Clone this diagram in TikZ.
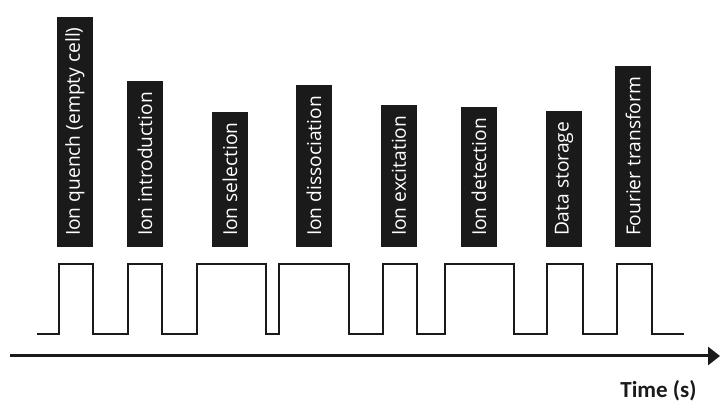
\documentclass[tikz,border=0pt]{standalone}
\usepackage{fontspec}
\setmainfont{Carlito}
\newfontfamily\labelfont{Open Sans}
\usetikzlibrary{arrows.meta}
\definecolor{ink}{HTML}{1A1A1A}
\begin{document}
\begin{tikzpicture}[x=1pt,y=-1pt,
  phase/.style={fill=ink,text=white,rotate=90,anchor=west,
    minimum height=36pt,inner xsep=10.8pt,inner ysep=0pt,
    font=\labelfont\fontsize{19.2}{19.2}\selectfont},
  wave/.style={draw=ink,line width=2.8pt,line join=miter},
  axis/.style={draw=ink,line width=3pt,-{Triangle[length=12pt,width=18pt]}},
]
\useasboundingbox (0,0) rectangle (721,403);
% sequence steps, each box sits on the same base line
\node[phase] (quench)  at (75,247)  {Ion quench (empty cell)};
\node[phase] (intro)   at (145,247) {Ion introduction};
\node[phase] (select)  at (230,247) {Ion selection};
\node[phase] (dissoc)  at (314,247) {Ion dissociation};
\node[phase] (excite)  at (399,247) {Ion excitation};
\node[phase] (detect)  at (479,247) {Ion detection};
\node[phase] (store)   at (564,247) {Data storage};
\node[phase] (fourier) at (633,247) {Fourier transform};
% timing pulses
\draw[wave] (37,334) -| (59,264) -| (93,334) -| (128,264) -| (162,334)
  -| (197,264) -| (266,334) -| (279,264) -| (349,334) -| (383,264)
  -| (417,334) -| (445,264) -| (514,334) -| (547,264) -| (583,334)
  -| (617,264) -| (652,334) -- (684,334);
% time axis
\coordinate (t0) at (10,356);
\coordinate (t1) at (720,356);
\draw[axis] (t0) -- (t1);
\node[anchor=base east,font=\fontsize{23}{23}\selectfont\bfseries,text=ink]
  (tlabel) at (700,397.5) {Time (s)};
\end{tikzpicture}
\end{document}
